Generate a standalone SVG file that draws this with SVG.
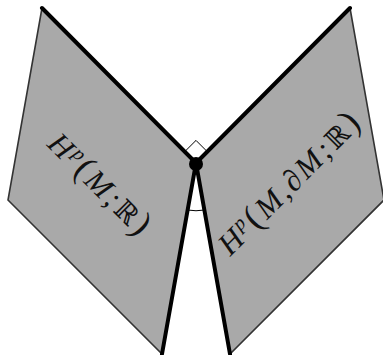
<svg xmlns="http://www.w3.org/2000/svg" width="383" height="355" viewBox="0 0 383 355">
<style>
.sheet{fill:#a9a9a9;stroke:#333;stroke-width:1.6;stroke-linejoin:miter}
.thick{stroke:#000;stroke-width:4;fill:none;stroke-linecap:round}
.mark{stroke:#000;stroke-width:1;fill:#fff}
.lbl{font-family:"Liberation Serif","DejaVu Serif",serif;font-style:italic;font-size:31px;letter-spacing:2.5px;fill:#111}
.bb{font-family:"DejaVu Serif","Liberation Serif",serif;font-style:normal;font-size:27px}
.par{font-style:normal;font-size:36px}
</style>
<rect width="383" height="355" fill="#fff"/>
<g id="left-sheet">
<polygon class="sheet" points="42,8 8,200 162,354 196,163"/>
<text class="lbl" text-anchor="middle" transform="translate(100,185) rotate(45)" y="10">H<tspan dy="-11" font-size="20">p</tspan><tspan dy="11" class="par">(</tspan>M;<tspan class="bb">ℝ</tspan><tspan class="par">)</tspan></text>
</g>
<g id="right-sheet">
<polygon class="sheet" points="350,8 384,200 230,354 196,163"/>
<text class="lbl" text-anchor="middle" transform="translate(290,183) rotate(-45)" y="10">H<tspan dy="-11" font-size="20">p</tspan><tspan dy="11" class="par">(</tspan>M,∂M;<tspan class="bb">ℝ</tspan><tspan class="par">)</tspan></text>
</g>
<g id="connectors">
<path class="mark" d="M196,163 L184.7,151.7 L196,140.4 L207.3,151.7 Z"/>
<path class="mark" d="M187.5,210 A48,48 0 0 0 204.5,210" style="fill:none"/>
<path class="thick" d="M42,8 L196,163 L162,354"/>
<path class="thick" d="M350,8 L196,163 L230,354"/>
<circle cx="196" cy="164" r="7" fill="#000"/>
</g>
</svg>
